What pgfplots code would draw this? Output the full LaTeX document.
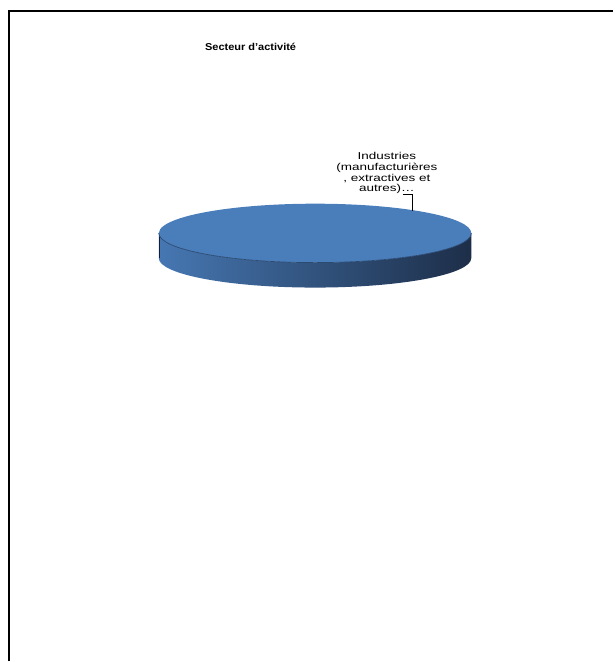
\documentclass[border=0pt]{standalone}
\usepackage{pgfplots}
\pgfplotsset{compat=1.18}
\usepackage{pgfplotstable}
\usepackage{fontspec}
\setmainfont{Liberation Sans}
\definecolor{pietop}{HTML}{4A7EBB}
\definecolor{sideL}{HTML}{4677B2}
\definecolor{sideM}{HTML}{3A6193}
\definecolor{sideR}{HTML}{1D2E48}
\definecolor{rimcol}{HTML}{2B4A72}
\pgfplotstableread{
label value
Industries 100
}\piedata
\begin{document}
\begin{tikzpicture}
\pgfplotstablegetelem{0}{value}\of\piedata
\pgfmathsetmacro{\slicevalue}{\pgfplotsretval}
\pgfmathsetmacro{\sliceangle}{3.6*\slicevalue}
\xdef\sliceangle{\sliceangle}
\begin{axis}[scale only axis, width=614pt, height=662pt,
  xmin=0, xmax=614, ymin=0, ymax=662, y dir=reverse,
  hide axis, clip=false]
\path (axis cs:0,0) rectangle (axis cs:614,662);
% frame
\draw[line width=2pt] (axis cs:9,662) -- (axis cs:9,11) -- (axis cs:614,11);
% title
\node[anchor=base, font=\fontsize{10}{12}\selectfont\bfseries] at (axis cs:251,50.7) {\scalebox{1.1}[1]{Secteur d'activité}};
% pie side
\shade[left color=sideL, middle color=sideM, right color=sideR]
  (axis cs:159,233.5) -- (axis cs:159,258.5)
  arc[start angle=180, end angle=360, x radius=156.5pt, y radius=29.5pt]
  -- (axis cs:472,233.5)
  arc[start angle=0, end angle=-180, x radius=156.5pt, y radius=29.5pt] -- cycle;
\draw[sideR!70!black, line width=0.5pt] (axis cs:159,233.5) -- (axis cs:159,258.5);
% pie top (slice of the data value)
\fill[pietop] (axis cs:315.5,233.5) -- ++(90:156.5pt and 29.5pt)
  arc[start angle=90, end angle=90-\sliceangle, x radius=156.5pt, y radius=29.5pt] -- cycle;
\draw[rimcol, line width=0.7pt] (axis cs:159,233.5)
  arc[start angle=180, end angle=360, x radius=156.5pt, y radius=29.5pt];
% label
\begingroup
\fontsize{10}{12}\selectfont
\node[anchor=base] at (axis cs:387.5,160) {\scalebox{1.35}[1]{Industries}};
\node[anchor=base] at (axis cs:387.5,170.7) {\scalebox{1.35}[1]{(manufacturières}};
\node[anchor=base] at (axis cs:387.5,181.4) {\scalebox{1.35}[1]{, extractives et}};
\node[anchor=base] at (axis cs:387.5,192) {\scalebox{1.35}[1]{autres)…}};
\endgroup
\draw[black, line width=0.7pt] (axis cs:404,195) -- (axis cs:413,195) -- (axis cs:413,211);
\end{axis}
\end{tikzpicture}
\end{document}
